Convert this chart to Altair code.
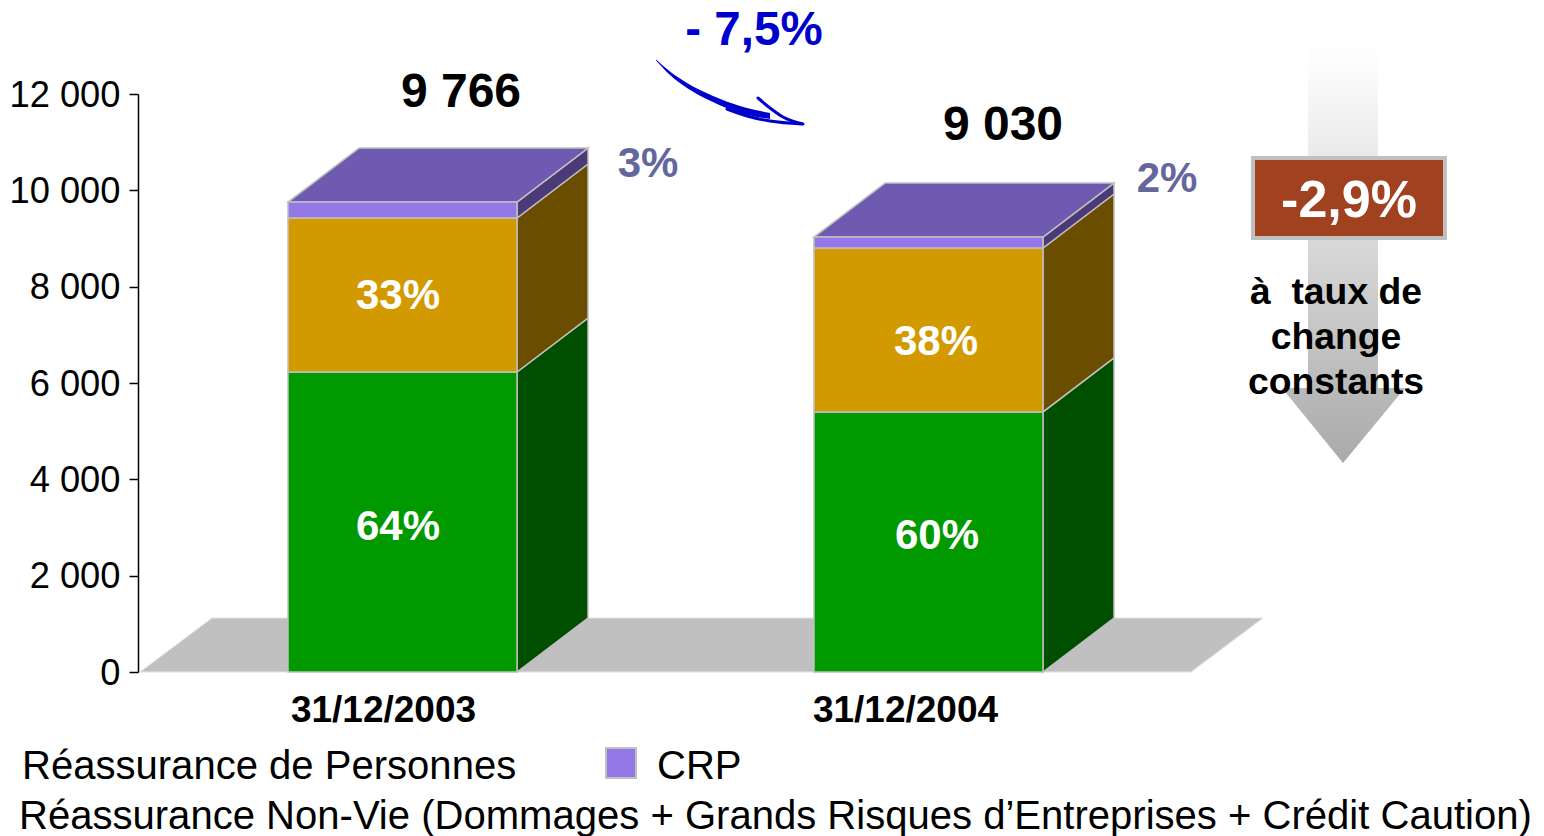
import altair as alt
import pandas as pd

# ---- data ----
categories = ["31/12/2003", "31/12/2004"]
reass_personnes = [6228, 5400]
reass_non_vie = [3198, 3403]
crp = [330, 227]
totals = ["9 766", "9 030"]
pct_personnes = ["64%", "60%"]
pct_non_vie = ["33%", "38%"]
pct_crp = ["3%", "2%"]
y_ticks = [0, 2000, 4000, 6000, 8000, 10000, 12000]
legend_labels = ["Réassurance de Personnes", "CRP",
                 "Réassurance Non-Vie (Dommages + Grands Risques d’Entreprises + Crédit Caution)"]
variation = "- 7,5%"
variation_cc = "-2,9%"
note_lines = ["à\u00a0\u00a0taux de", "change", "constants"]

# ---- layout (picture pixels converted to the scales' units) ----
X0, Y0, YTOP = 138, 672, 94
W, H = 1191 - X0, Y0 - YTOP
UNIT = 12000 / H
def ux(px): return px - X0
def uy(py): return (Y0 - py) * UNIT
BAR_LEFT = [288, 814]
BAR_W = 229
DX, DY = 71, 54 * UNIT

x_scale = alt.Scale(domain=[0, W], nice=False, zero=False)
y_scale = alt.Scale(domain=[0, 12000], nice=False, zero=False)
x_axis = alt.Axis(values=[ux(383), ux(905)],
                  labelExpr=f"datum.value < 500 ? '{categories[0]}' : '{categories[1]}'",
                  ticks=False, domain=False, grid=False, labelFontSize=37, labelFontWeight="bold",
                  labelFont="Liberation Sans", labelColor="black", labelPadding=20, labelFlush=False,
                  labelOverlap=False, labelLimit=600, title=None)
y_axis = alt.Axis(values=y_ticks, labelExpr="replace(format(datum.value, ',d'), ',', ' ')",
                  grid=False, tickSize=9, tickColor="black", tickWidth=1.5, domainColor="black",
                  domainWidth=1.5, labelFontSize=36.3, labelFont="Liberation Sans", labelColor="black",
                  labelPadding=9, labelFlush=False, labelOverlap=False, labelOffset=1, title=None)
def X(): return alt.X("x:Q", scale=x_scale, axis=x_axis)
def Y(): return alt.Y("y:Q", scale=y_scale, axis=y_axis, stack=None)
X2 = alt.X2("x2:Q")
Y2 = alt.Y2("y2:Q")
FILL = alt.Color("c:N", scale=None)
EDGE = dict(stroke="#c0c0c0", strokeWidth=1.5)

# floor
floor = pd.DataFrame({"x": [ux(140), ux(212)], "x2": [ux(1191), ux(1263)], "y": [0, DY]})
floor_l = alt.Chart(floor).mark_area(orient="horizontal", color="#c0c0c0", stroke="#e4e4e4", strokeWidth=1).encode(
    x=X(), x2=X2, y=Y())

# bars
series = [("p", reass_personnes, "#009900", "#004E00"),
          ("n", reass_non_vie, "#D29A00", "#6B4D00"),
          ("c", crp, "#9478E8", "#4A3A78")]
front_rows, side_rows = [], []
for b, left in enumerate(BAR_LEFT):
    base = 0
    for name, vals, col, dark in series:
        top = base + vals[b]
        front_rows.append(dict(x=ux(left), x2=ux(left + BAR_W), y=base, y2=top, c=col))
        r = ux(left + BAR_W)
        side_rows.append(dict(id=f"{b}{name}", x=r, y=top, y2=base, c=dark))
        side_rows.append(dict(id=f"{b}{name}", x=r + DX, y=top + DY, y2=base + DY, c=dark))
        base = top
top_rows = []
for b, left in enumerate(BAR_LEFT):
    t = reass_personnes[b] + reass_non_vie[b] + crp[b]
    top_rows.append(dict(id=b, x=ux(left), x2=ux(left + BAR_W), y=t, c="#6E5AB0"))
    top_rows.append(dict(id=b, x=ux(left + DX), x2=ux(left + BAR_W + DX), y=t + DY, c="#6E5AB0"))

sides = alt.Chart(pd.DataFrame(side_rows)).mark_area(**EDGE).encode(
    x=X(), y=Y(), y2=Y2, color=FILL, detail="id:N")
tops = alt.Chart(pd.DataFrame(top_rows)).mark_area(orient="horizontal", **EDGE).encode(
    x=X(), x2=X2, y=Y(), color=FILL, detail="id:N")
fronts = alt.Chart(pd.DataFrame(front_rows)).mark_rect(**EDGE).encode(
    x=X(), x2=X2, y=Y(), y2=Y2, color=FILL)

# big gradient arrow
arrow = pd.DataFrame({
    "y": [uy(30), uy(388), uy(388.01), uy(463)],
    "x": [ux(1308), ux(1308), ux(1282), ux(1343)],
    "x2": [ux(1378), ux(1378), ux(1405), ux(1343)],
})
arrow_l = alt.Chart(arrow).mark_area(
    orient="horizontal",
    color=alt.Gradient(gradient="linear", x1=0, y1=0, x2=0, y2=1,
                       stops=[alt.GradientStop(offset=0, color="#ffffff"),
                              alt.GradientStop(offset=0.08, color="#fdfdfd"),
                              alt.GradientStop(offset=1, color="#aaaaaa")]),
).encode(x=X(), x2=X2, y=Y())

# rust box
box = pd.DataFrame({"x": [ux(1253)], "x2": [ux(1445)], "y": [uy(238)], "y2": [uy(158)]})
box_l = alt.Chart(box).mark_rect(color="#A04220", stroke="#c0c0c0", strokeWidth=4).encode(
    x=X(), x2=X2, y=Y(), y2=Y2)

# hand-drawn blue arrow
stroke_main = pd.DataFrame({
    "x": [ux(p) for p in [656, 670, 687, 713, 740, 770]],
    "y": [uy(p) for p in [59.5, 71.5, 83, 96, 106, 113]],
    "y2": [uy(p) for p in [60.5, 75, 88, 102, 113, 119]],
})
blue_main = alt.Chart(stroke_main).mark_area(color="#0000CC", interpolate="monotone").encode(x=X(), y=Y(), y2=Y2)
strokes = pd.DataFrame({
    "id": ["a"] * 4 + ["b"] * 4,
    "x": [ux(p) for p in [727, 747, 770, 802, 758, 770, 783, 803]],
    "y": [uy(p) for p in [109, 116, 121, 124, 98, 108, 117, 124]],
})
blue_lines = alt.Chart(strokes).mark_line(color="#0000CC", strokeWidth=3, interpolate="monotone", strokeCap="round").encode(
    x=X(), y=Y(), detail="id:N")

# CRP legend swatch
swatch = pd.DataFrame({"x": [ux(606)], "x2": [ux(636)], "y": [uy(778)], "y2": [uy(748)]})
swatch_l = alt.Chart(swatch).mark_rect(color="#9478E8", stroke="#c0c0c0", strokeWidth=2).encode(
    x=X(), x2=X2, y=Y(), y2=Y2)

def texts(rows, **style):
    df = pd.DataFrame([dict(t=t, x=ux(px), y=uy(py)) for t, px, py in rows])
    base = dict(font="Liberation Sans", baseline="alphabetic", align="center", fontWeight="bold", clip=False)
    base.update(style)
    return alt.Chart(df).mark_text(**base).encode(x=X(), y=Y(), text="t:N")

t_totals = texts([(totals[0], 461, 107), (totals[1], 1003, 140)], fontSize=48, color="black")
t_var = texts([(variation, 754, 45)], fontSize=47.5, color="#0000CC")
t_crp = texts([(pct_crp[0], 648, 177), (pct_crp[1], 1167, 192)], fontSize=42, color="#66669F")
t_pct = texts([(pct_non_vie[0], 398, 309), (pct_personnes[0], 398, 540),
               (pct_non_vie[1], 936, 355), (pct_personnes[1], 937, 549)], fontSize=42, color="white")
t_box = texts([(variation_cc, 1349, 217)], fontSize=52, color="white")
t_note = texts([(note_lines[0], 1336, 304), (note_lines[1], 1336, 349), (note_lines[2], 1336, 394)],
               fontSize=37.3, color="black")
t_leg = texts([(legend_labels[0], 22, 779), (legend_labels[1], 657, 779), (legend_labels[2], 19, 829)],
              fontSize=40.05, color="black", align="left", fontWeight="normal")

chart = alt.layer(
    floor_l, sides, tops, fronts, arrow_l, box_l, blue_main, blue_lines, swatch_l,
    t_totals, t_var, t_crp, t_pct, t_box, t_note, t_leg,
).properties(
    width=W, height=H, autosize="none",
    padding={"left": X0 - 8, "top": YTOP - 8, "right": 1536 - 1191, "bottom": 836 - Y0},
).configure_view(stroke=None)

chart.save("out.html", embed_options={"renderer": "svg", "actions": False})
